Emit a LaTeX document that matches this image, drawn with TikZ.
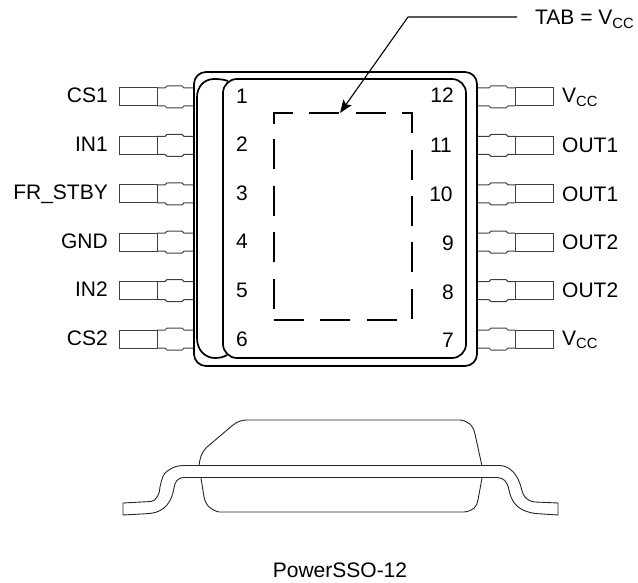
\documentclass[tikz,border=0pt]{standalone}
\usepackage{fontspec}
\setmainfont{Liberation Sans}
\usetikzlibrary{arrows.meta}
\begin{document}
\begin{tikzpicture}[
    x=1pt, y=-1pt,
    body/.style={line width=1.7pt},
    lead/.style={draw=black!75, line width=1pt, fill=white},
    profile/.style={draw=black!85, line width=0.9pt},
    tablimit/.style={line width=1.3pt, dash pattern=on 30pt off 16.4pt},
    leader/.style={line width=1.1pt},
    label/.style={font=\fontsize{21}{25}\selectfont, inner sep=0pt},
    pinleft/.pic={
        \draw[lead] (0,-9) rectangle (38,9);
        \draw[lead] (38,-9) -- (46,-9) -- (48,-11) -- (63,-11) -- (65,-9) -- (75,-9);
        \draw[lead] (38,9) -- (46,9) -- (48,11) -- (63,11) -- (65,9) -- (75,9);
    },
    pinright/.pic={
        \draw[lead] (0,-9) rectangle (-38,9);
        \draw[lead] (-38,-9) -- (-45,-9) -- (-47,-11) -- (-62,-11) -- (-64,-9) -- (-76,-9);
        \draw[lead] (-38,9) -- (-45,9) -- (-47,11) -- (-62,11) -- (-64,9) -- (-76,9);
    }
]
    \useasboundingbox (0,0) rectangle (638,583);

    % Left leads
    \pic at (119, 97) {pinleft};
    \pic at (119, 145.4) {pinleft};
    \pic at (119, 193.8) {pinleft};
    \pic at (119, 242.2) {pinleft};
    \pic at (119, 290.6) {pinleft};
    \pic at (119, 339) {pinleft};

    % Right leads
    \pic at (553, 97) {pinright};
    \pic at (553, 145.4) {pinright};
    \pic at (553, 193.8) {pinright};
    \pic at (553, 242.2) {pinright};
    \pic at (553, 290.6) {pinright};
    \pic at (553, 339) {pinright};

    % Package outline
    \draw[body, rounded corners=12pt] (194, 72) rectangle (477, 366);
    \draw[body, rounded corners=14pt] (223, 79) rectangle (466, 358);
    \draw[body] (228, 81) .. controls (224, 79.5) and (219, 79) .. (214, 79)
        .. controls (204, 79) and (197, 87) .. (197, 97) -- (197, 338)
        .. controls (197, 350) and (205, 358) .. (215, 358)
        .. controls (220, 358) and (224, 357) .. (227, 355);

    % Exposed tab
    \draw[tablimit] (274, 124) -- (274, 113) -- (412, 113) -- (412, 320) -- (274, 320);
    \draw[tablimit, dash phase=35pt] (274, 320) -- (274, 125);

    % Pin names, left
    \node[label, anchor=base east] (cs1) at (108, 103) {CS1};
    \node[label, anchor=base east] (in1) at (108, 151.4) {IN1};
    \node[label, anchor=base east] (frstby) at (108, 200) {FR\_STBY};
    \node[label, anchor=base east] (gnd) at (108, 248) {GND};
    \node[label, anchor=base east] (in2) at (108, 296.6) {IN2};
    \node[label, anchor=base east] (cs2) at (108, 345) {CS2};

    % Pin names, right
    \node[label, anchor=base west] (vcca) at (562, 103) {V\textsubscript{CC}};
    \node[label, anchor=base west] (out1a) at (562, 153) {OUT1};
    \node[label, anchor=base west] (out1b) at (562, 202) {OUT1};
    \node[label, anchor=base west] (out2a) at (562, 250) {OUT2};
    \node[label, anchor=base west] (out2b) at (562, 298) {OUT2};
    \node[label, anchor=base west] (vccb) at (562, 345) {V\textsubscript{CC}};

    % Pin numbers
    \node[label, anchor=base] (n1) at (242, 104) {1};
    \node[label, anchor=base] (n2) at (242, 152) {2};
    \node[label, anchor=base] (n3) at (242, 201) {3};
    \node[label, anchor=base] (n4) at (242, 249) {4};
    \node[label, anchor=base] (n5) at (242, 297.5) {5};
    \node[label, anchor=base] (n6) at (242, 346) {6};
    \node[label, anchor=base] (n7) at (448, 347) {7};
    \node[label, anchor=base] (n8) at (448, 299) {8};
    \node[label, anchor=base] (n9) at (448, 251) {9};
    \node[label, anchor=base] (n10) at (441, 202) {10};
    \node[label, anchor=base] (n11) at (441, 153) {11};
    \node[label, anchor=base] (n12) at (442, 103) {12};

    % Tab callout
    \node[label, anchor=base west] (tab) at (535, 25) {TAB = V\textsubscript{CC}};
    \coordinate (tabend) at (517, 17);
    \coordinate (tabbend) at (408, 17);
    \coordinate (tabtip) at (340, 113);
    \draw[leader, -{Stealth[length=13pt, width=10pt, inset=2.5pt]}] (tabend) -- (tabbend) -- (tabtip);

    % Side view
    \draw[profile] (199, 466) .. controls (200, 458) and (201, 453) .. (207, 447)
        -- (233, 425) .. controls (237, 422) and (241, 420) .. (247, 420)
        -- (460, 420) .. controls (468, 421) and (473, 425) .. (475, 434) -- (482, 466);
    \draw[profile] (201, 478) -- (204, 497) .. controls (206, 506) and (211, 510) .. (219, 512)
        -- (464, 512) .. controls (473, 511) and (477, 507) .. (478, 500) -- (482, 478);
    \draw[profile] (123, 503) -- (151, 501.5) .. controls (156, 501) and (160, 494) .. (160, 487)
        .. controls (162, 478) and (163, 473) .. (169, 470)
        .. controls (173, 467) and (178, 465.5) .. (184, 465.5)
        -- (500, 465.5) .. controls (511, 466) and (518, 476) .. (521, 487)
        .. controls (523, 496) and (526, 501) .. (535, 502) -- (558, 503)
        -- (558, 515) -- (535, 513.5)
        .. controls (520, 511) and (512, 505) .. (509, 490)
        .. controls (507, 481) and (504, 478) .. (497, 477.5)
        -- (184, 477.5) .. controls (177, 478) and (175, 482) .. (174, 488)
        .. controls (172, 501) and (165, 512) .. (150, 513.5) -- (123, 515) -- cycle;

    % Package name
    \node[label, anchor=base] (pkgname) at (340, 577) {PowerSSO-12};
\end{tikzpicture}
\end{document}
